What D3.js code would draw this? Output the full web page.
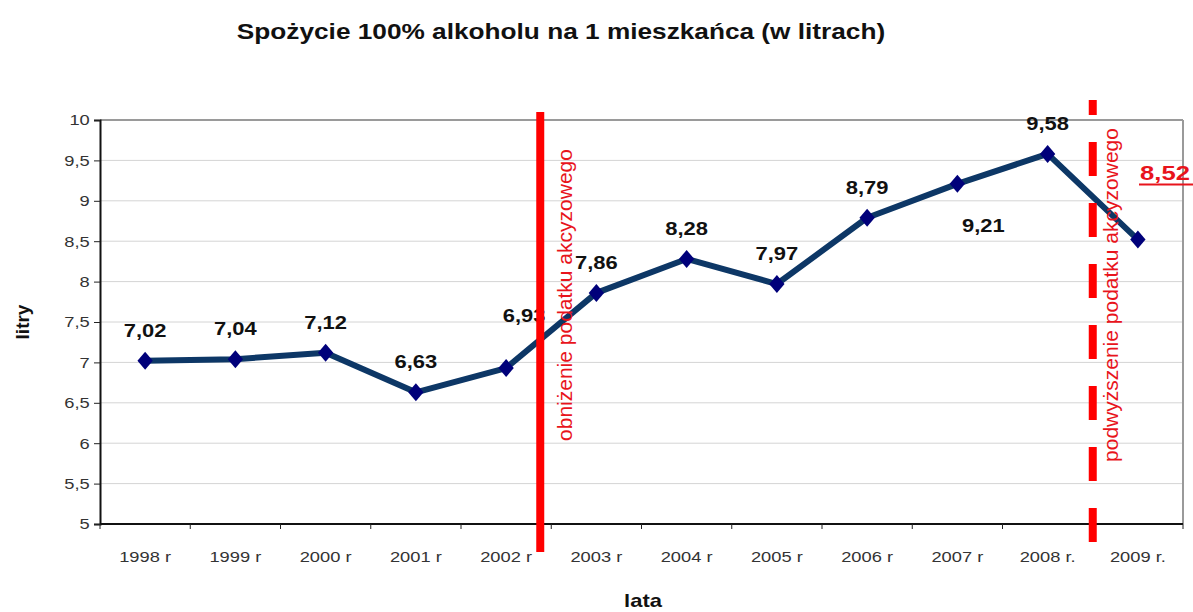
<!DOCTYPE html>
<html><head><meta charset="utf-8">
<script src="https://cdn.jsdelivr.net/npm/d3@7"></script>
<style>body{margin:0;background:#fff;font-family:"Liberation Sans",Arial,sans-serif}</style>
</head><body><svg id="c" width="1193" height="612"></svg>
<script>
const categories = ["1998 r","1999 r","2000 r","2001 r","2002 r","2003 r","2004 r","2005 r","2006 r","2007 r","2008 r.","2009 r."];
const values = [7.02,7.04,7.12,6.63,6.93,7.86,8.28,7.97,8.79,9.21,9.58,8.52];
const labels = ["7,02","7,04","7,12","6,63","6,93","7,86","8,28","7,97","8,79","9,21","9,58",""];
const labelBelow = [false,false,false,false,false,false,false,false,false,true,false,false];
const yTicks = [5,5.5,6,6.5,7,7.5,8,8.5,9,9.5,10];
const title = "Spożycie 100% alkoholu na 1 mieszkańca (w litrach)";

const SX = 1.22; // horizontal stretch of the reference's lettering
const svg = d3.select("#c");
const m = {l:100, r:1183, t:120, b:524};
const x = d3.scaleBand().domain(categories).range([m.l, m.r]);
const y = d3.scaleLinear().domain([5,10]).range([m.b, m.t]);
const fmt = v => String(v).replace(".", ",");

function stretchedText(g, tx, ty, txt, size, weight, fill, anchor) {
  return g.append("text").attr("transform", `translate(${tx},${ty}) scale(${SX},1)`)
    .attr("text-anchor", anchor || "middle").attr("font-size", size)
    .attr("font-weight", weight || "normal").attr("fill", fill).text(txt);
}

// gridlines
svg.append("g").selectAll("line").data(yTicks.slice(1)).join("line")
  .attr("x1", m.l).attr("x2", m.r).attr("y1", d=>y(d)).attr("y2", d=>y(d))
  .attr("stroke", d=> d===10 ? "#9a9a9a" : "#d4d4d4").attr("stroke-width", d=> d===10?2:1);
svg.append("line").attr("x1", m.r).attr("x2", m.r).attr("y1", m.t).attr("y2", m.b)
  .attr("stroke","#9a9a9a").attr("stroke-width",2);

// axes
const yAxis = svg.append("g").attr("transform",`translate(${m.l},0)`)
  .call(d3.axisLeft(y).tickValues(yTicks).tickFormat(fmt).tickSize(6).tickPadding(9));
const xAxis = svg.append("g").attr("transform",`translate(0,${m.b})`)
  .call(d3.axisBottom(x).tickSize(0).tickPadding(27));
svg.append("g").selectAll("line").data(d3.range(categories.length+1)).join("line")
  .attr("x1", i=>m.l + i*x.step()).attr("x2", i=>m.l + i*x.step())
  .attr("y1", m.b).attr("y2", m.b+5).attr("stroke","#222").attr("stroke-width",1);
[yAxis, xAxis].forEach(g=>{
  g.select(".domain").attr("stroke","#111").attr("stroke-width",2);
  g.selectAll("text").attr("font-size",15).attr("fill","#333")
    .attr("font-family","Liberation Sans, Arial, sans-serif")
    .attr("transform", `scale(${SX},1)`);
  g.selectAll(".tick line").attr("stroke","#222");
});
yAxis.selectAll("text").attr("x", -9/SX - 1);
xAxis.select(".domain").attr("d", `M${m.l},0H${m.r}`);

// line
const cx = d => x(d) + x.bandwidth()/2;
svg.append("path").datum(values)
  .attr("fill","none").attr("stroke","#0d3766").attr("stroke-width",6).attr("stroke-linejoin","round")
  .attr("d", d3.line().x((d,i)=>cx(categories[i])).y(d=>y(d)));
svg.append("g").selectAll("path").data(values).join("path")
  .attr("d", d3.symbol(d3.symbolDiamond, 130)())
  .attr("transform",(d,i)=>`translate(${cx(categories[i])},${y(d)}) scale(1.25,0.85)`)
  .attr("fill","#00007a");

// data labels
const lg = svg.append("g");
values.forEach((d,i)=>{
  const dx = i===4 ? 18 : (i===9 ? 26 : 0);
  const dy = labelBelow[i] ? 48 : (i===4 ? -46 : -24);
  stretchedText(lg, cx(categories[i]) + dx, y(d) + dy, labels[i], 18, "bold", "#111");
});

// red event lines
const redX1 = m.l + 5*x.step() - 11;
svg.append("line").attr("x1",redX1).attr("x2",redX1).attr("y1",112).attr("y2",552)
  .attr("stroke","#ff0000").attr("stroke-width",8);
const redX2 = m.l + 11*x.step();
svg.append("line").attr("x1",redX2).attr("x2",redX2).attr("y1",542).attr("y2",100)
  .attr("stroke","#ff0000").attr("stroke-width",8).attr("stroke-dasharray","34,27");

svg.append("text").attr("transform",`translate(${redX1+32},295) rotate(-90)`)
  .attr("text-anchor","middle").attr("font-size",21).attr("fill","#e8141c")
  .text("obniżenie podatku akcyzowego");
svg.append("text").attr("transform",`translate(${redX2+25},295) rotate(-90)`)
  .attr("text-anchor","middle").attr("font-size",21).attr("fill","#e8141c")
  .text("podwyższenie podatku akcyzowego");

// 8,52 highlight
const last = values[values.length-1];
stretchedText(svg, 1165, 180, fmt(last), 21, "bold", "#e8141c");
svg.append("line").attr("x1",1139).attr("x2",1193).attr("y1",184.5).attr("y2",184.5)
  .attr("stroke","#e8141c").attr("stroke-width",2);

// titles
stretchedText(svg, 561, 39, title, 21.5, "bold", "#111");
svg.append("text").attr("transform","translate(29,322) rotate(-90)").attr("text-anchor","middle")
  .attr("font-size",19).attr("font-weight","bold").attr("fill","#111").text("litry");
stretchedText(svg, 643, 607, "lata", 18, "bold", "#111");
</script></body></html>
